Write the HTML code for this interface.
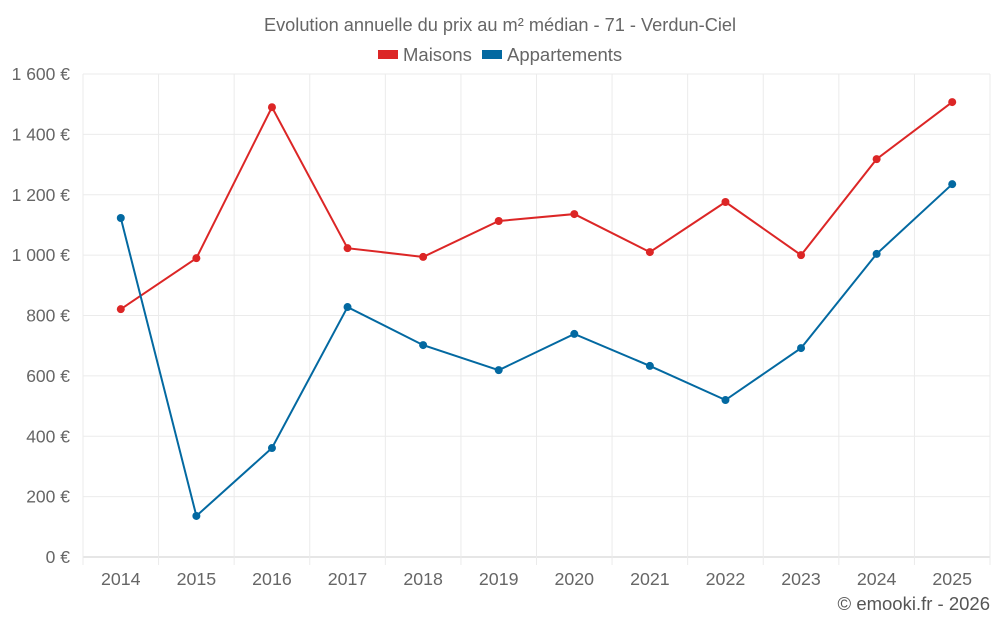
<!DOCTYPE html>
<html><head><meta charset="utf-8"><style>
body{margin:0;background:#fff;font-family:"Liberation Sans",sans-serif}
svg text{font-family:"Liberation Sans",sans-serif}
</style></head><body>
<svg id="chart" width="1000" height="625" viewBox="0 0 1000 625" xmlns="http://www.w3.org/2000/svg">
<text x="500" y="31" text-anchor="middle" font-size="18.2" fill="#666">Evolution annuelle du prix au m² médian - 71 - Verdun-Ciel</text>
<g>
<g><rect x="378" y="50" width="20" height="9" fill="#dc2626"/><text x="403" y="61" font-size="18.5" fill="#666">Maisons</text></g>
<g><rect x="482" y="50" width="20" height="9" fill="#0369a1"/><text x="507" y="61" font-size="18.5" fill="#666">Appartements</text></g>
</g>
<g id="grid"></g>
<g id="axes"></g>
<g id="series"></g>
<text x="990" y="610" text-anchor="end" font-size="18.5" fill="#555">© emooki.fr - 2026</text>
</svg>
<script>
const categories=["2014","2015","2016","2017","2018","2019","2020","2021","2022","2023","2024","2025"];
const maisons=[821,990,1490,1023,994,1113,1136,1010,1176,1000,1318,1507];
const appartements=[1123,136,361,828,702,619,739,633,520,692,1004,1235];
const yTicks=[0,200,400,600,800,1000,1200,1400,1600];
const yTickLabels=["0 €","200 €","400 €","600 €","800 €","1 000 €","1 200 €","1 400 €","1 600 €"];
const L=83,R=990,T=74,B=557,ymax=1600;
const bw=(R-L)/categories.length;
const x=i=>L+bw*(i+0.5);
const y=v=>B-(v/ymax)*(B-T);
const NS="http://www.w3.org/2000/svg";
function mk(tag,attrs,parent){const e=document.createElementNS(NS,tag);for(const k in attrs)e.setAttribute(k,attrs[k]);parent.appendChild(e);return e;}
const grid=document.getElementById('grid'),axes=document.getElementById('axes'),series=document.getElementById('series');
yTicks.forEach((t,i)=>{
 const ln=mk('line',{x1:L,x2:R,y1:y(t),y2:y(t),stroke:i===0?'#ccc':'#ebebeb','stroke-width':1},grid);
 
 
 const tx=mk('text',{x:L-13,y:y(t)+6,'text-anchor':'end','font-size':17.5,fill:'#666'},axes);
 tx.textContent=yTickLabels[i];
 
 
});
for(let i=0;i<=categories.length;i++){
 const ln=mk('line',{x1:L+bw*i,x2:L+bw*i,y1:T,y2:B+8,stroke:'#ebebeb','stroke-width':1},grid);
 
 
}
categories.forEach((c,i)=>{
 const tx=mk('text',{x:x(i),y:585,'text-anchor':'middle','font-size':17.8,fill:'#666'},axes);
 tx.textContent=c;
 
 
});
function draw(vals,color,name){
 const p=mk('polyline',{points:vals.map((v,i)=>x(i)+','+y(v)).join(' '),fill:'none',stroke:color,'stroke-width':2},series);
 
 
 vals.forEach((v,i)=>{
  const c=mk('circle',{cx:x(i),cy:y(v),r:4,fill:color},series);
  
  
 });
}
draw(maisons,'#dc2626','maisons');
draw(appartements,'#0369a1','appartements');
</script>
</body></html>
